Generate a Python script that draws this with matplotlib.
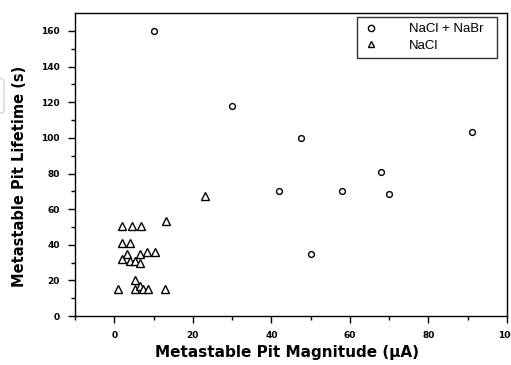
import matplotlib

matplotlib.use("Agg")
import matplotlib.pyplot as plt
from matplotlib.patches import FancyBboxPatch

plt.rcParams.update({
    "font.family": "sans-serif",
    "font.sans-serif": ["Liberation Sans", "DejaVu Sans"],
    "axes.linewidth": 1.0,
})

# NaCl + NaBr pits: magnitude (uA), lifetime (s)
mix_mag = [10, 30, 47.5, 91, 68, 42, 58, 70, 50]
mix_life = [160, 118, 100, 103.5, 81, 70, 70, 68.5, 35]

# NaCl pits
nacl_mag = [1.9, 4.4, 6.9, 13.1, 23.0,
            1.9, 3.9, 1.9, 3.1, 4.0, 5.2, 6.5, 6.5, 8.2, 10.3,
            5.2, 1.0, 5.2, 6.5, 7.3, 8.6, 12.8]
nacl_life = [50.5, 50.5, 50.5, 53.5, 67.5,
             41, 41, 32, 35, 31, 31, 30, 35, 36, 36,
             20.5, 15, 15, 17, 15, 15, 15]

x_ticks = [0, 20, 40, 60, 80, 100]
y_ticks = [0, 20, 40, 60, 80, 100, 120, 140, 160]

fig = plt.figure(figsize=(5.11, 3.65), dpi=100)
ax = fig.add_axes([0.147, 0.134, 0.845, 0.830])

# faint grey outline at the left edge
fig.patches.append(FancyBboxPatch((-0.01, 0.69), 0.018, 0.095,
                                  boxstyle="round,pad=0,rounding_size=0.008",
                                  transform=fig.transFigure, fill=False,
                                  edgecolor="#d4d4d4", linewidth=1.0))

ax.plot(mix_mag, mix_life, linestyle="None", marker="o", markersize=4.2,
        markerfacecolor="white", markeredgecolor="black",
        markeredgewidth=1.0, label="NaCl + NaBr  ")
ax.plot(nacl_mag, nacl_life, linestyle="None", marker="^", markersize=6.2,
        markerfacecolor="white", markeredgecolor="black",
        markeredgewidth=1.0, label="NaCl")

ax.set_xlim(-10, 100)
ax.set_ylim(0, 170)
ax.set_xticks(x_ticks)
ax.set_yticks(y_ticks)
ax.set_xticks(range(-10, 100, 10), minor=True)
ax.set_yticks(range(10, 170, 20), minor=True)
ax.tick_params(which="major", direction="out", length=5, width=1.0, pad=6)
ax.tick_params(which="minor", direction="out", length=3, width=1.0)
ax.set_xticklabels([str(v) for v in x_ticks], fontsize=6.5,
                   fontweight="bold", family="DejaVu Sans")
ax.set_yticklabels([str(v) for v in y_ticks], fontsize=6.5,
                   fontweight="bold", family="DejaVu Sans")

ax.set_xlabel("Metastable Pit Magnitude (\u00b5A)", fontsize=11,
              fontweight="bold", family="DejaVu Sans")
ax.set_ylabel("Metastable Pit Lifetime (s)", fontsize=10.5,
              fontweight="bold", family="DejaVu Sans")
ax.xaxis.set_label_coords(0.49, -0.095)
ax.yaxis.set_label_coords(-0.111, 0.46)

leg = ax.legend(loc="upper right", bbox_to_anchor=(0.977, 0.987),
                borderaxespad=0, prop={"size": 9.5}, frameon=True,
                fancybox=False, edgecolor="black", borderpad=0.45,
                handlelength=1.2, handletextpad=2.3, labelspacing=0.35)
leg.get_frame().set_linewidth(1.0)
for h in leg.legend_handles:
    h.set_markersize(4.5)

fig.savefig("out.png", dpi=100)
